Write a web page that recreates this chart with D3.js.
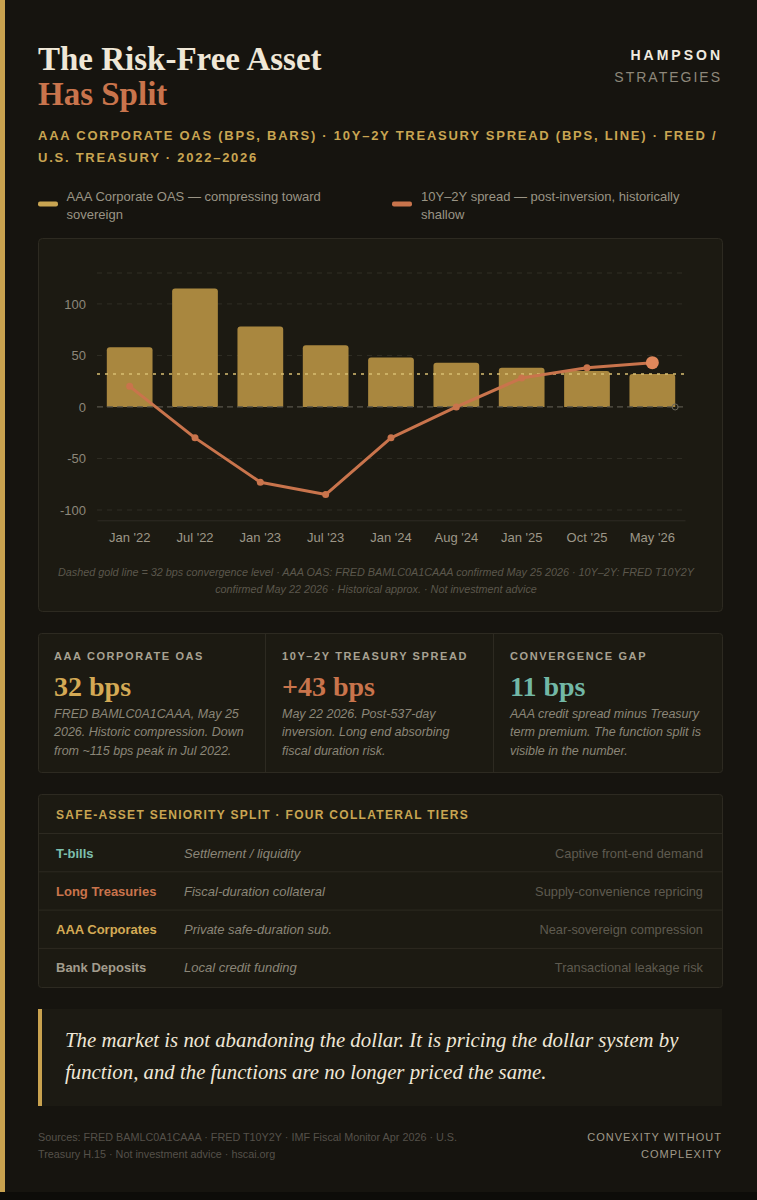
<!DOCTYPE html>
<html>
<head>
<meta charset="utf-8">
<script src="https://cdn.jsdelivr.net/npm/d3@7"></script>
<style>
  body { margin: 0; background: #0d0c09; }
  svg { display: block; }
</style>
</head>
<body>
<div id="card"></div>
<script>
// ---- data ----
const periods = ["Jan '22", "Jul '22", "Jan '23", "Jul '23", "Jan '24", "Aug '24", "Jan '25", "Oct '25", "May '26"];
const aaaOas = [58, 115, 78, 60, 48, 43, 38, 35, 32];
const spread10y2y = [20, -30, -73, -85, -30, 0, 28, 38, 43];
const yTicks = [-100, -50, 0, 50, 100];
const convergenceLevel = 32;

const statLabels = ["AAA CORPORATE OAS", "10Y–2Y TREASURY SPREAD", "CONVERGENCE GAP"];
const statValues = ["32 bps", "+43 bps", "11 bps"];
const statNotes = [
    ["FRED BAMLC0A1CAAA, May 25", "2026. Historic compression. Down", "from ~115 bps peak in Jul 2022."],
    ["May 22 2026. Post-537-day", "inversion. Long end absorbing", "fiscal duration risk."],
    ["AAA credit spread minus Treasury", "term premium. The function split is", "visible in the number."]
];

const tierNames = ["T-bills", "Long Treasuries", "AAA Corporates", "Bank Deposits"];
const tierRoles = ["Settlement / liquidity", "Fiscal-duration collateral", "Private safe-duration sub.", "Local credit funding"];
const tierRisks = ["Captive front-end demand", "Supply-convenience repricing", "Near-sovereign compression", "Transactional leakage risk"];

// ---- look ----
const serif = "'Liberation Serif', 'DejaVu Serif', serif",
    sans = "'Liberation Sans', Arial, sans-serif";
const gold = "#c9a552", rust = "#c9744c", teal = "#72b8a6", cream = "#efe7d7";
const panelFill = "#1c1a12", panelStroke = "#2d2a21";
const statColors = ["#d4aa55", rust, teal];
const tierColors = ["#7cbfae", rust, "#d4aa55", "#a29c8d"];

const W = 757, H = 1200;

var svg = d3.select("#card").append("svg")
    .attr("width", W)
    .attr("height", H);

svg.append("rect").attr("width", W).attr("height", H).attr("fill", "#0d0c09");
svg.append("rect").attr("width", W).attr("height", 1192).attr("fill", "#16140f");
svg.append("rect").attr("width", 5).attr("height", 1192).attr("fill", "#c9a24f");

// multi-line text helper
function addLines(g, lines, x, y0, dy) {
    var t = g.append("text").attr("x", x).attr("y", y0);
    lines.forEach((l, i) => t.append("tspan").attr("x", x).attr("y", y0 + i * dy).text(l));
    return t;
}

// ---- header ----
svg.append("text").attr("x", 38).attr("y", 69.5)
    .attr("font-family", serif).attr("font-weight", 700).attr("font-size", 33)
    .attr("fill", cream).text("The Risk-Free Asset");
svg.append("text").attr("x", 38).attr("y", 105)
    .attr("font-family", serif).attr("font-weight", 700).attr("font-size", 33)
    .attr("fill", rust).text("Has Split");

svg.append("text").attr("x", 723).attr("y", 59.5).attr("text-anchor", "end")
    .attr("font-family", sans).attr("font-weight", 700).attr("font-size", 14)
    .attr("letter-spacing", 3).attr("fill", "#f0ebe0").text("HAMPSON");
svg.append("text").attr("x", 722).attr("y", 81.5).attr("text-anchor", "end")
    .attr("font-family", sans).attr("font-size", 14)
    .attr("letter-spacing", 2).attr("fill", "#8d877a").text("STRATEGIES");

addLines(svg, ["AAA CORPORATE OAS (BPS, BARS) · 10Y–2Y TREASURY SPREAD (BPS, LINE) · FRED /", "U.S. TREASURY · 2022–2026"], 38, 140, 21.5)
    .attr("font-family", sans).attr("font-weight", 700).attr("font-size", 13)
    .attr("letter-spacing", 1.75).attr("fill", gold);

// legend
svg.append("rect").attr("x", 38).attr("y", 201.5).attr("width", 20).attr("height", 5).attr("rx", 2).attr("fill", gold);
addLines(svg, ["AAA Corporate OAS — compressing toward", "sovereign"], 66.5, 200.5, 18)
    .attr("font-family", sans).attr("font-size", 13).attr("fill", "#9a9485");
svg.append("rect").attr("x", 392).attr("y", 201.5).attr("width", 20).attr("height", 5).attr("rx", 2).attr("fill", rust);
addLines(svg, ["10Y–2Y spread — post-inversion, historically", "shallow"], 421, 200.5, 18)
    .attr("font-family", sans).attr("font-size", 13).attr("fill", "#9a9485");

// ---- chart panel ----
svg.append("rect").attr("x", 38.5).attr("y", 238.5).attr("width", 684).attr("height", 373).attr("rx", 4)
    .attr("fill", panelFill).attr("stroke", panelStroke);

var x = d3.scaleBand().domain(periods).range([97, 685]).paddingInner(0.3).paddingOuter(0.15);
var y = d3.scaleLinear().domain([-110, 130]).range([520.3, 273]);
var bw = x.bandwidth();

var chart = svg.append("g");

// gridlines
chart.selectAll(".grid").data(yTicks.filter(d => d !== 0).concat([y.domain()[1]]))
    .join("line")
    .attr("x1", 97).attr("x2", 685)
    .attr("y1", d => y(d)).attr("y2", d => y(d))
    .attr("stroke", "#302e25").attr("stroke-dasharray", "5,5");

// y axis labels
chart.append("g")
    .attr("transform", "translate(86,0)")
    .call(d3.axisLeft(y).tickValues(yTicks).tickFormat(d => String(d)).tickSize(0).tickPadding(0))
    .call(g => g.select(".domain").remove())
    .selectAll("text")
    .attr("font-family", sans).attr("font-size", 13).attr("fill", "#8d877a");

// x axis
chart.append("g")
    .attr("transform", "translate(0,520.3)")
    .call(d3.axisBottom(x).tickSize(0).tickPadding(12.5))
    .call(g => g.select(".domain").attr("stroke", "#2e2c24"))
    .selectAll("text")
    .attr("font-family", sans).attr("font-size", 13).attr("fill", "#9d9788");

// bars with rounded tops
function barPath(x0, y0, w, h, r) {
    return `M${x0},${y0 + h}V${y0 + r}Q${x0},${y0} ${x0 + r},${y0}H${x0 + w - r}Q${x0 + w},${y0} ${x0 + w},${y0 + r}V${y0 + h}Z`;
}
chart.selectAll(".bar").data(aaaOas)
    .join("path")
    .attr("class", "bar")
    .attr("d", (d, i) => barPath(x(periods[i]), y(d), bw, y(0) - y(d), 3))
    .attr("fill", "#a9873f");

// zero line
chart.append("line")
    .attr("x1", 97).attr("x2", 685)
    .attr("y1", y(0)).attr("y2", y(0))
    .attr("stroke", "#57544a").attr("stroke-width", 1.3).attr("stroke-dasharray", "6,4");
chart.append("circle")
    .attr("cx", x(periods[periods.length - 1]) + bw).attr("cy", y(0)).attr("r", 3)
    .attr("fill", "none").attr("stroke", "#6b675b");

// convergence level
chart.append("line")
    .attr("x1", 97).attr("x2", 685)
    .attr("y1", y(convergenceLevel)).attr("y2", y(convergenceLevel))
    .attr("stroke", "#d8bf72").attr("stroke-width", 1.6).attr("stroke-dasharray", "3,5");

// spread line
var line = d3.line()
    .x((d, i) => x(periods[i]) + bw / 2)
    .y(d => y(d));
chart.append("path")
    .attr("d", line(spread10y2y))
    .attr("fill", "none").attr("stroke", rust).attr("stroke-width", 3)
    .attr("stroke-linejoin", "round");
chart.selectAll(".pt").data(spread10y2y)
    .join("circle")
    .attr("cx", (d, i) => x(periods[i]) + bw / 2)
    .attr("cy", d => y(d))
    .attr("r", (d, i) => i === spread10y2y.length - 1 ? 6.5 : 3.5)
    .attr("fill", (d, i) => i === spread10y2y.length - 1 ? "#df875b" : rust);

addLines(chart, ["Dashed gold line = 32 bps convergence level · AAA OAS: FRED BAMLC0A1CAAA confirmed May 25 2026 · 10Y–2Y: FRED T10Y2Y",
    "confirmed May 22 2026 · Historical approx. · Not investment advice"], 376, 576, 16.5)
    .attr("text-anchor", "middle")
    .attr("font-family", sans).attr("font-style", "italic").attr("font-size", 10.8).attr("fill", "#5b574c");

// ---- stat cards ----
svg.append("rect").attr("x", 38.5).attr("y", 633.5).attr("width", 684).attr("height", 139).attr("rx", 3)
    .attr("fill", panelFill).attr("stroke", panelStroke);
[265.5, 493.5].forEach(xx => svg.append("line")
    .attr("x1", xx).attr("x2", xx).attr("y1", 634).attr("y2", 772)
    .attr("stroke", panelStroke));

statLabels.forEach((lab, i) => {
    var cx = 54 + i * 228;
    svg.append("text").attr("x", cx).attr("y", 659.5)
        .attr("font-family", sans).attr("font-weight", 700).attr("font-size", 11)
        .attr("letter-spacing", 1.6).attr("fill", "#a8a292").text(lab);
    svg.append("text").attr("x", cx).attr("y", 695.5)
        .attr("font-family", serif).attr("font-weight", 700).attr("font-size", 28)
        .attr("fill", statColors[i]).text(statValues[i]);
    addLines(svg, statNotes[i], cx, 717.5, 18.5)
        .attr("font-family", sans).attr("font-style", "italic").attr("font-size", 12.5)
        .attr("fill", "#8b8678");
});

// ---- tiers table ----
svg.append("rect").attr("x", 38.5).attr("y", 794.5).attr("width", 684).attr("height", 193).attr("rx", 3)
    .attr("fill", panelFill).attr("stroke", panelStroke);
svg.append("text").attr("x", 56).attr("y", 818.5)
    .attr("font-family", sans).attr("font-weight", 700).attr("font-size", 12)
    .attr("letter-spacing", 1.3).attr("fill", gold)
    .text("SAFE-ASSET SENIORITY SPLIT · FOUR COLLATERAL TIERS");

tierNames.forEach((name, i) => {
    var top = 833.5 + i * 38.3;
    svg.append("line").attr("x1", 39).attr("x2", 722).attr("y1", top).attr("y2", top)
        .attr("stroke", panelStroke);
    var base = top + 24;
    svg.append("text").attr("x", 56).attr("y", base)
        .attr("font-family", sans).attr("font-weight", 700).attr("font-size", 13)
        .attr("fill", tierColors[i]).text(name);
    svg.append("text").attr("x", 184).attr("y", base)
        .attr("font-family", sans).attr("font-style", "italic").attr("font-size", 13)
        .attr("fill", "#8b8678").text(tierRoles[i]);
    svg.append("text").attr("x", 703).attr("y", base).attr("text-anchor", "end")
        .attr("font-family", sans).attr("font-size", 12.8)
        .attr("fill", "#5f5b50").text(tierRisks[i]);
});

// ---- quote ----
svg.append("rect").attr("x", 38).attr("y", 1009).attr("width", 684).attr("height", 97).attr("fill", "#1c1a13");
svg.append("rect").attr("x", 38).attr("y", 1009).attr("width", 4).attr("height", 97).attr("fill", "#c9a24f");
addLines(svg, ["The market is not abandoning the dollar. It is pricing the dollar system by",
    "function, and the functions are no longer priced the same."], 65, 1047, 32)
    .attr("font-family", serif).attr("font-style", "italic").attr("font-size", 20.8)
    .attr("fill", cream);

// ---- footer ----
addLines(svg, ["Sources: FRED BAMLC0A1CAAA · FRED T10Y2Y · IMF Fiscal Monitor Apr 2026 · U.S.",
    "Treasury H.15 · Not investment advice · hscai.org"], 38, 1140.5, 17.5)
    .attr("font-family", sans).attr("font-size", 10.8).attr("fill", "#55514a");
addLines(svg, ["CONVEXITY WITHOUT", "COMPLEXITY"], 722, 1140.5, 17.5)
    .attr("text-anchor", "end")
    .attr("font-family", sans).attr("font-size", 11).attr("letter-spacing", 1.0)
    .attr("fill", "#a09a8a");
</script>
</body>
</html>
